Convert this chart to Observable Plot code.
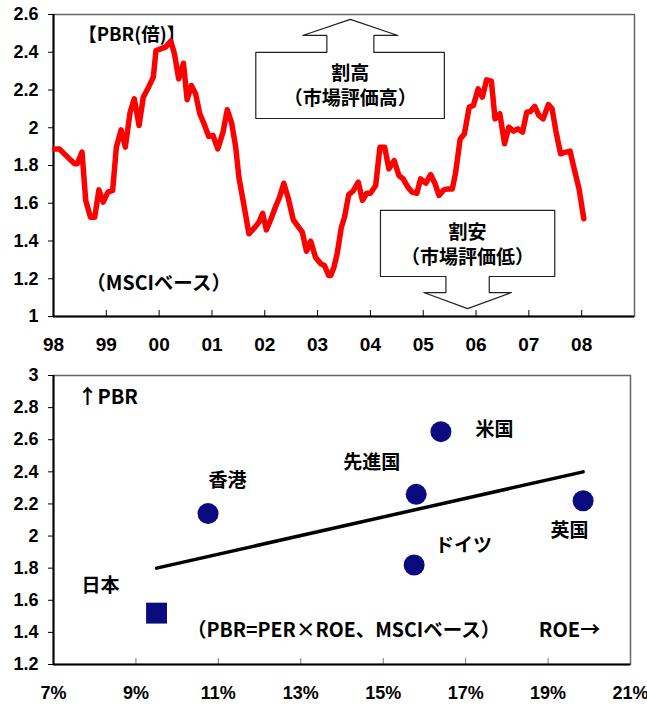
<!DOCTYPE html>
<html><head><meta charset="utf-8">
<script src="https://cdn.jsdelivr.net/npm/d3@7"></script>
<script src="https://cdn.jsdelivr.net/npm/@observablehq/plot@0.6"></script>
<style>
body{margin:0;background:#fff;}
#c{width:647px;}
#c svg{display:block;}
</style></head><body><div id="c"></div>
<script>
// ---------- top chart data: PBR (Japan, MSCI) ----------
const pbrYear = [1998.02,1998.11,1998.32,1998.40,1998.45,1998.54,1998.61,1998.70,1998.78,1998.86,1998.94,
1999.03,1999.12,1999.19,1999.28,1999.36,1999.45,1999.53,1999.62,1999.70,1999.80,1999.89,1999.94,
2000.03,2000.12,2000.22,2000.29,2000.37,2000.46,2000.53,2000.61,2000.69,2000.77,2000.85,2000.94,
2001.02,2001.11,2001.21,2001.29,2001.37,2001.45,2001.51,2001.60,2001.70,2001.79,2001.89,2001.96,
2002.03,2002.12,2002.20,2002.28,2002.36,2002.44,2002.54,2002.63,2002.71,2002.79,2002.87,2002.96,
2003.06,2003.13,2003.21,2003.25,2003.31,2003.37,2003.45,2003.51,2003.59,2003.67,2003.77,2003.85,2003.93,
2004.00,2004.10,2004.18,2004.27,2004.35,2004.45,2004.54,2004.62,2004.71,2004.79,2004.88,2004.95,
2005.05,2005.14,2005.22,2005.30,2005.39,2005.47,2005.55,2005.61,2005.70,2005.78,2005.87,2005.95,
2006.04,2006.12,2006.20,2006.29,2006.36,2006.45,2006.54,2006.62,2006.71,2006.79,2006.88,2006.96,
2007.03,2007.11,2007.19,2007.27,2007.37,2007.44,2007.51,2007.60,2007.70,2007.78,2007.85,2007.95,2008.04];
const pbrValue = [1.888,1.888,1.830,1.809,1.809,1.871,1.615,1.526,1.526,1.671,1.606,
1.659,1.668,1.897,1.989,1.897,2.082,2.153,2.012,2.162,2.215,2.268,2.409,
2.418,2.427,2.459,2.392,2.259,2.342,2.148,2.224,2.180,2.074,2.021,1.954,
1.959,1.888,1.977,2.095,2.029,1.897,1.738,1.597,1.438,1.465,1.500,1.547,
1.459,1.518,1.579,1.632,1.706,1.632,1.512,1.477,1.447,1.346,1.399,1.314,
1.279,1.270,1.217,1.217,1.261,1.332,1.473,1.526,1.646,1.664,1.712,1.615,1.653,
1.653,1.694,1.897,1.897,1.782,1.826,1.747,1.729,1.685,1.659,1.653,1.729,
1.706,1.752,1.706,1.641,1.671,1.676,1.676,1.756,1.941,1.968,2.109,2.118,
2.206,2.162,2.254,2.247,2.047,2.074,1.915,2.003,1.982,1.994,1.977,2.082,
2.086,2.113,2.065,2.047,2.123,2.100,1.985,1.862,1.871,1.876,1.791,1.676,1.518];
const yearTicks = [1998,1999,2000,2001,2002,2003,2004,2005,2006,2007,2008];
const yearLabels = ["98","99","00","01","02","03","04","05","06","07","08"];
const pbrTicks = [1,1.2,1.4,1.6,1.8,2,2.2,2.4,2.6];
const pbrTickLabels = ["1","1.2","1.4","1.6","1.8","2","2.2","2.4","2.6"];

// annotations (data units)
const topTexts = ["【PBR(倍)】","（MSCIベース）"];
const arrowLabels = [["割高","（市場評価高）"],["割安","（市場評価低）"]];

// ---------- bottom chart data: ROE vs PBR ----------
const countries = ["日本","香港","先進国","米国","ドイツ","英国"];
const roe = [9.5,10.75,15.8,16.4,15.75,19.85];
const pbr = [1.52,2.14,2.26,2.65,1.82,2.22];
const trendRoe = [9.5,19.85];
const trendPbr = [1.80,2.40];
const roeTicks = [7,9,11,13,15,17,19,21];
const roeTickLabels = ["7%","9%","11%","13%","15%","17%","19%","21%"];
const pbr2Ticks = [1.2,1.4,1.6,1.8,2,2.2,2.4,2.6,2.8,3];
const pbr2TickLabels = ["1.2","1.4","1.6","1.8","2","2.2","2.4","2.6","2.8","3"];
const bottomTexts = ["↑PBR","（PBR=PER×ROE、MSCIベース）","ROE→"];

const numFont = "'Liberation Sans', Arial, sans-serif";
const jpFont = "'Noto Sans CJK JP', sans-serif";
const lbl = (ticks, labels) => d => labels[ticks.indexOf(d)] ?? "";

// arrow polygons built from a spec
function arrowPoly(s) {
  const [bx1, bx2, by1, by2] = s.box;
  const c = s.center;
  return [
    [bx1, by1],[bx1, by2],[c - s.shaft, by2],[c - s.shaft, s.shaftEnd],[c - s.head, s.shaftEnd],
    [c, s.tip],[c + s.head, s.shaftEnd],[c + s.shaft, s.shaftEnd],[c + s.shaft, by2],[bx2, by2],[bx2, by1],[bx1, by1]
  ];
}
const upArrow = arrowPoly({box:[2001.83,2005.40,2.049,2.399], center:2003.62, shaft:0.445, head:0.9, shaftEnd:2.489, tip:2.574});
const downArrow = arrowPoly({box:[2004.19,2007.49,1.562,1.212], center:2005.84, shaft:0.41, head:0.83, shaftEnd:1.127, tip:1.042});

const pbrData = pbrYear.map((x,i)=>({x, y:pbrValue[i]}));

const topChart = Plot.plot({
  width: 647, height: 350,
  marginLeft: 53, marginRight: 13, marginTop: 14, marginBottom: 34,
  style: {fontFamily: numFont, background: "white", overflow: "visible"},
  x: {domain: [1998, 2009]},
  y: {domain: [1, 2.6]},
  marks: [
    Plot.frame({stroke: "#666", strokeWidth: 1.5}),
    Plot.ruleX(yearTicks.slice(1), {x: d => d, insetTop: 296, stroke: "#000", strokeWidth: 1}),
    Plot.axisY({ticks: pbrTicks, tickFormat: lbl(pbrTicks, pbrTickLabels), tickSize: 5, tickPadding: 10, fontSize: 18, fontWeight: "bold", fill: "#000", label: null}),
    Plot.axisX({ticks: yearTicks, tickFormat: lbl(yearTicks, yearLabels), tickSize: 0, tickPadding: 21, fontSize: 19, fontWeight: "bold", fill: "#000", label: null}),
    Plot.ruleX([1998], {stroke: "#000", strokeWidth: 2}),
    Plot.ruleY([1], {stroke: "#000", strokeWidth: 2}),
    Plot.line(upArrow, {x: d => d[0], y: d => d[1], fill: "white", stroke: "#222", strokeWidth: 1.2, curve: "linear"}),
    Plot.line(downArrow, {x: d => d[0], y: d => d[1], fill: "white", stroke: "#222", strokeWidth: 1.2, curve: "linear"}),
    Plot.text([arrowLabels[0][0]], {x: 2003.62, y: 2.287, text: d => d, fontFamily: jpFont, fontWeight: "bold", fontSize: 19, fill: "#000"}),
    Plot.text([arrowLabels[0][1]], {x: 2003.62, y: 2.155, text: d => d, fontFamily: jpFont, fontWeight: "bold", fontSize: 19, fill: "#000"}),
    Plot.text([arrowLabels[1][0]], {x: 2005.84, y: 1.445, text: d => d, fontFamily: jpFont, fontWeight: "bold", fontSize: 19, fill: "#000"}),
    Plot.text([arrowLabels[1][1]], {x: 2005.84, y: 1.313, text: d => d, fontFamily: jpFont, fontWeight: "bold", fontSize: 19, fill: "#000"}),
    Plot.text([topTexts[0]], {x: 1999.48, y: 2.489, text: d => d, fontFamily: jpFont, fontWeight: "bold", fontSize: 18.5, fill: "#000"}),
    Plot.text([topTexts[1]], {x: 1999.99, y: 1.175, text: d => d, fontFamily: jpFont, fontWeight: "bold", fontSize: 19.5, fill: "#000"}),
    Plot.line(pbrData, {x: "x", y: "y", stroke: "#ff0000", strokeWidth: 5.5, strokeLinejoin: "round", strokeLinecap: "round"})
  ]
});

const pts = countries.map((c,i)=>({c, x: roe[i], y: pbr[i]}));
const labelPos = {"日本":[8.14,1.692],"香港":[11.22,2.346],"先進国":[14.72,2.458],"米国":[17.70,2.664],"ドイツ":[16.95,1.941],"英国":[19.52,2.035]};
const trend = trendRoe.map((x,i)=>({x, y: trendPbr[i]}));

const bottomChart = Plot.plot({
  width: 647, height: 357,
  marginLeft: 53, marginRight: 17, marginTop: 25, marginBottom: 43,
  style: {fontFamily: numFont, background: "white", overflow: "visible"},
  x: {domain: [7, 21]},
  y: {domain: [1.2, 3]},
  marks: [
    Plot.frame({stroke: "#666", strokeWidth: 1.5}),
    Plot.ruleX(roeTicks.slice(1, -1), {x: d => d, insetTop: 283, stroke: "#777", strokeWidth: 1}),
    Plot.axisY({ticks: pbr2Ticks, tickFormat: lbl(pbr2Ticks, pbr2TickLabels), tickSize: 5, tickPadding: 10, fontSize: 18, fontWeight: "bold", fill: "#000", label: null}),
    Plot.axisX({ticks: roeTicks, tickFormat: lbl(roeTicks, roeTickLabels), tickSize: 0, tickPadding: 22, fontSize: 18, fontWeight: "bold", fill: "#000", label: null}),
    Plot.ruleX([7], {stroke: "#000", strokeWidth: 2}),
    Plot.ruleY([1.2], {stroke: "#000", strokeWidth: 2}),
    Plot.line(trend, {x: "x", y: "y", stroke: "#000", strokeWidth: 3.5}),
    Plot.dot(pts.filter(d => d.c !== "日本"), {x: "x", y: "y", r: 10.5, fill: "#0b0b80", stroke: "none"}),
    Plot.dot(pts.filter(d => d.c === "日本"), {x: "x", y: "y", r: 11.8, symbol: "square", fill: "#0b0b80", stroke: "none"}),
    Plot.text(countries, {x: d => labelPos[d][0], y: d => labelPos[d][1], text: d => d, fontFamily: jpFont, fontWeight: "bold", fontSize: 19, fill: "#000"}),
    Plot.text([bottomTexts[0]], {x: 7.58, y: 2.863, text: d => d, textAnchor: "start", fontFamily: jpFont, fontWeight: "bold", fontSize: 20, fill: "#000"}),
    Plot.text([bottomTexts[1]], {x: 14.04, y: 1.412, text: d => d, fontFamily: jpFont, fontWeight: "bold", fontSize: 19.5, fill: "#000"}),
    Plot.text([bottomTexts[2]], {x: 19.52, y: 1.412, text: d => d, fontFamily: jpFont, fontWeight: "bold", fontSize: 20, fill: "#000"})
  ]
});

document.getElementById("c").append(topChart, bottomChart);
</script></body></html>
